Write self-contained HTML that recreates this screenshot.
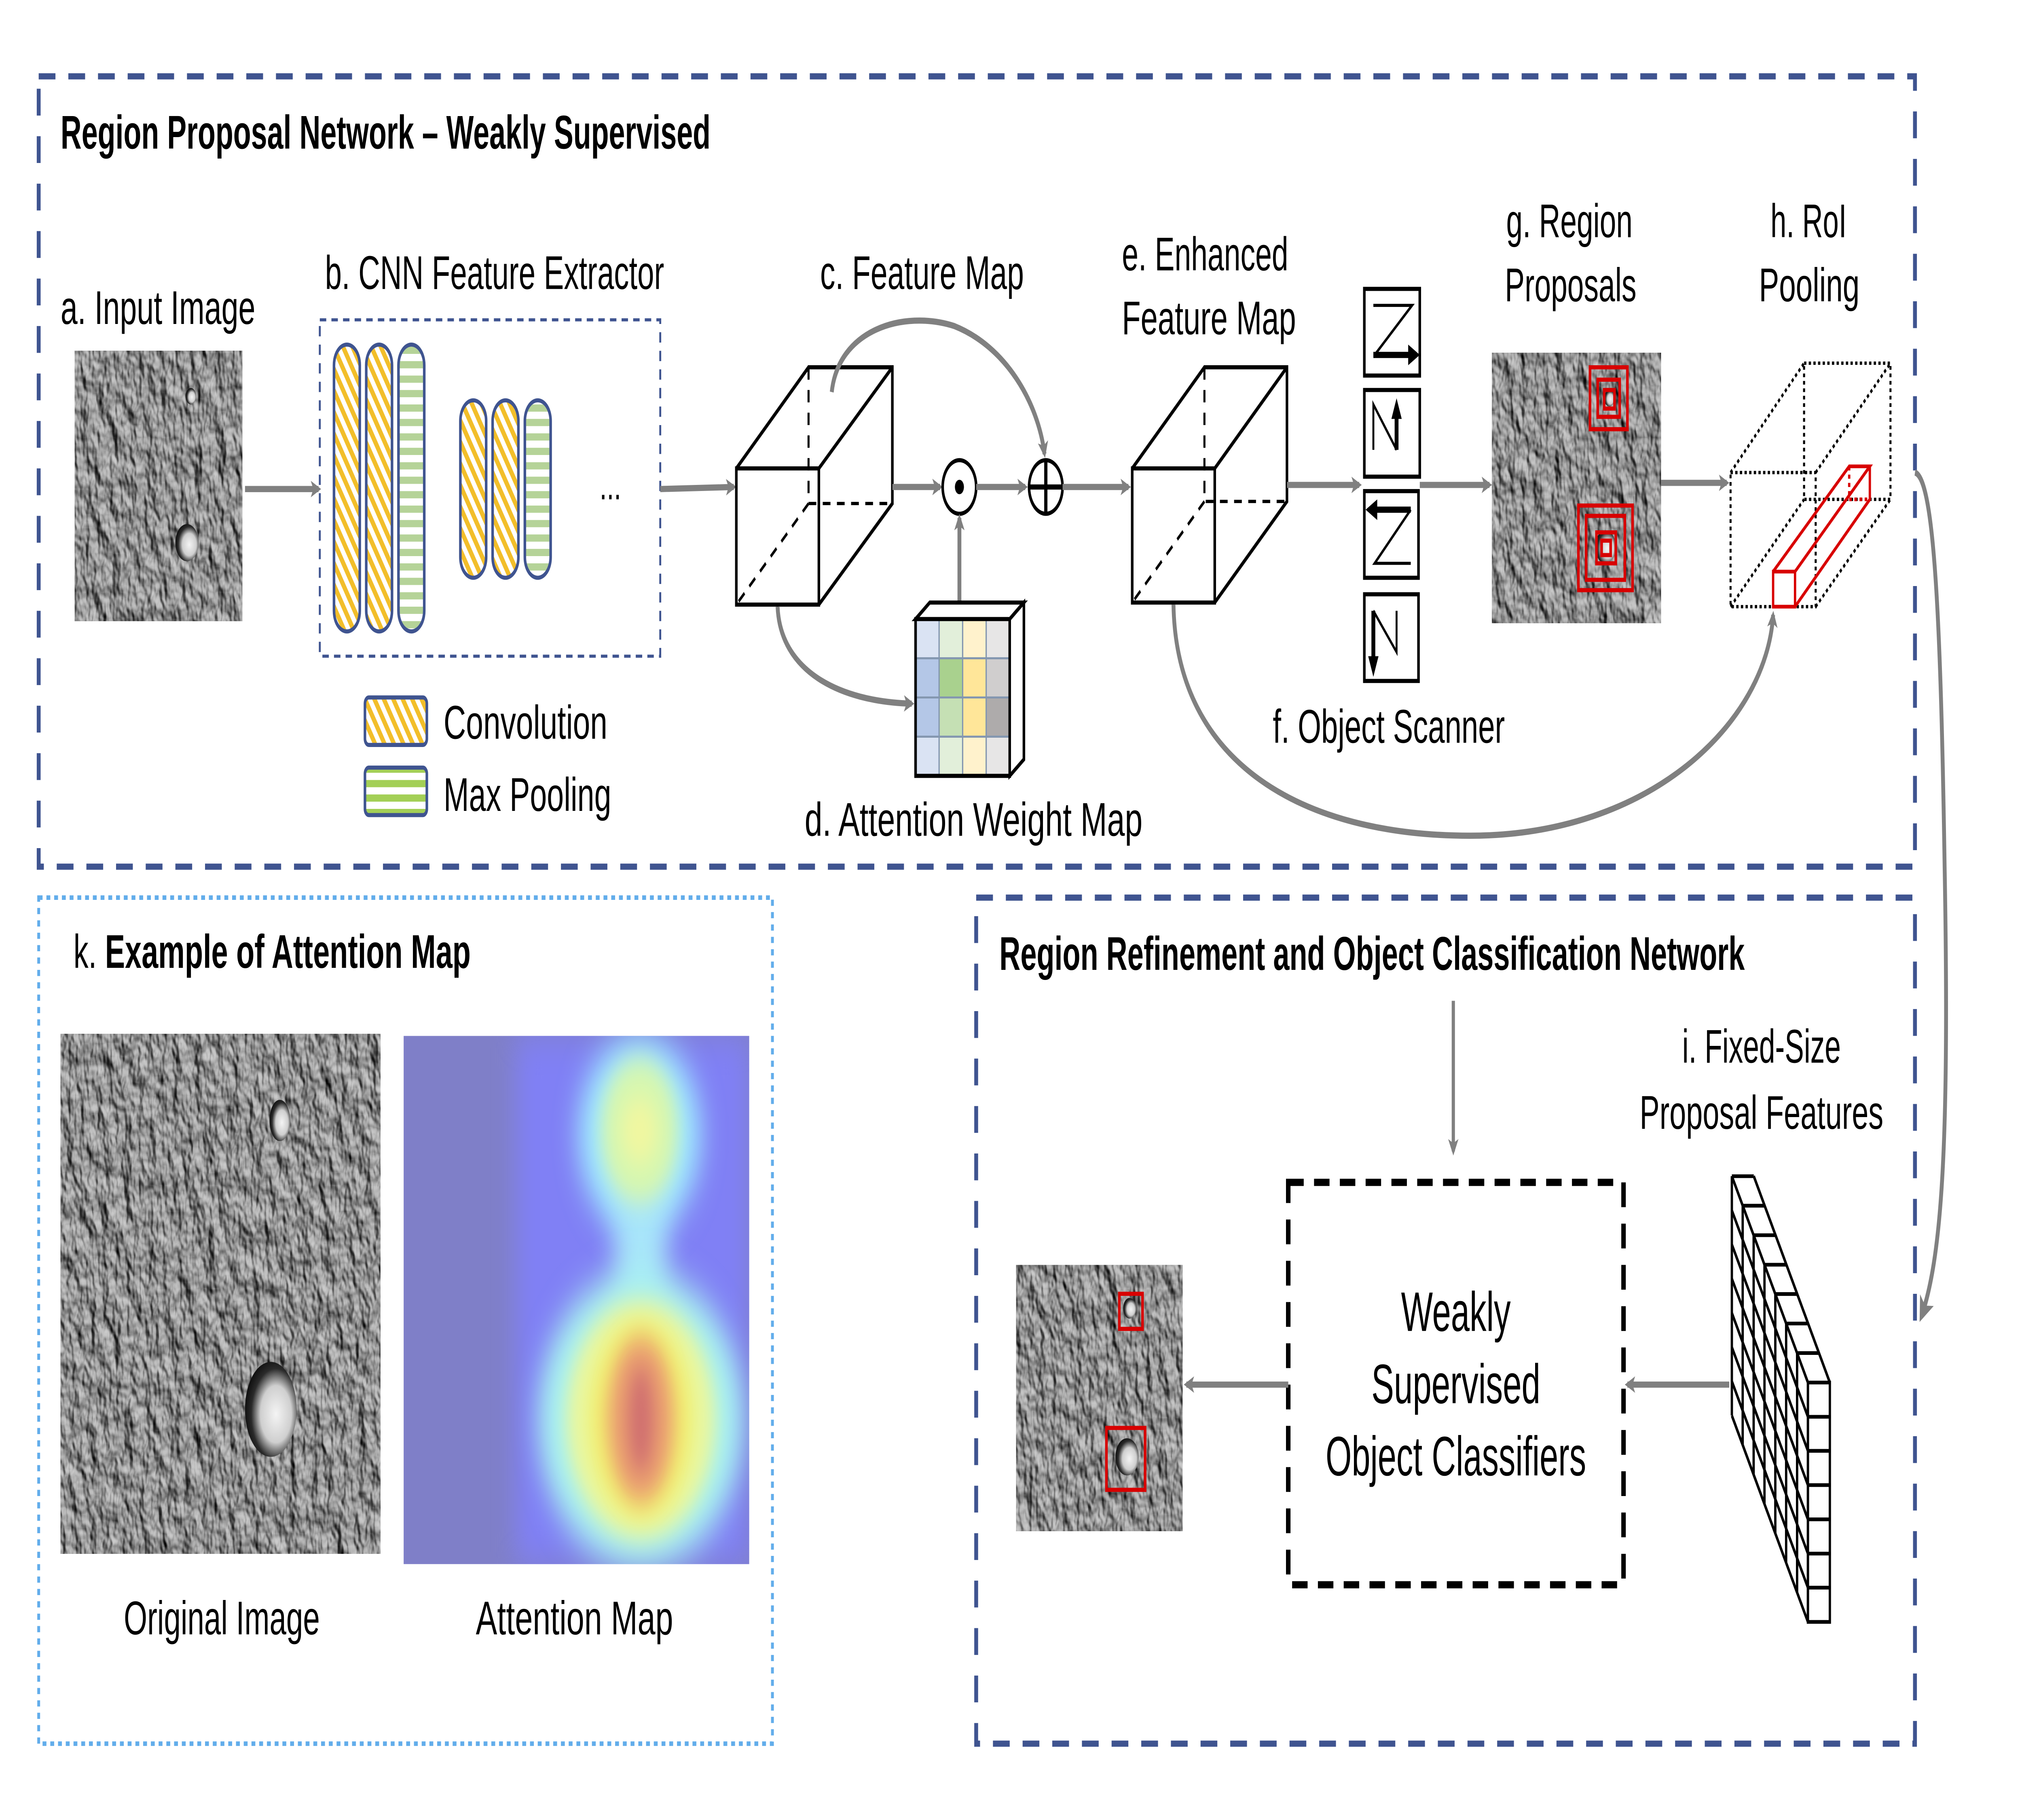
<!DOCTYPE html>
<html><head><meta charset="utf-8"><style>
html,body{margin:0;padding:0;background:#fff;width:100%;height:100%;overflow:hidden;}
svg{display:block;position:absolute;left:0;top:0;width:100vw;height:100vh;}
text{font-family:"Liberation Sans",sans-serif;fill:#000;}
</style></head><body>
<svg viewBox="0 0 1568 882" preserveAspectRatio="none" xmlns="http://www.w3.org/2000/svg">
<defs>
  <filter id="rock" x="0" y="0" width="1" height="1" color-interpolation-filters="sRGB">
    <feTurbulence type="fractalNoise" baseFrequency="0.11 0.08" numOctaves="3" seed="7"/>
    <feDiffuseLighting lighting-color="#bdbdbd" surfaceScale="3" diffuseConstant="1.0">
      <feDistantLight azimuth="135" elevation="50"/>
    </feDiffuseLighting>
    <feComponentTransfer><feFuncR type="linear" slope="1.15" intercept="-0.05"/><feFuncG type="linear" slope="1.15" intercept="-0.05"/><feFuncB type="linear" slope="1.15" intercept="-0.05"/></feComponentTransfer>
  </filter>
  <filter id="blur8" x="-50%" y="-50%" width="200%" height="200%"><feGaussianBlur stdDeviation="9"/></filter>
  <filter id="blur5" x="-50%" y="-50%" width="200%" height="200%"><feGaussianBlur stdDeviation="6"/></filter>
  <radialGradient id="crater" cx="0.6" cy="0.55" r="0.6">
    <stop offset="0" stop-color="#f4f4f4"/><stop offset="0.5" stop-color="#cfcfcf"/><stop offset="0.8" stop-color="#2a2a2a"/><stop offset="1" stop-color="#111"/>
  </radialGradient>
  <pattern id="diag" patternUnits="userSpaceOnUse" width="6" height="6" patternTransform="rotate(-35)">
    <rect width="6" height="6" fill="#fff"/><rect width="3" height="6" fill="#F2BE2A"/>
  </pattern>
  <pattern id="hstripe" patternUnits="userSpaceOnUse" width="10" height="7">
    <rect width="10" height="7" fill="#fff"/><rect width="10" height="3.5" fill="#B5D398"/>
  </pattern>
  <pattern id="hstripe2" patternUnits="userSpaceOnUse" width="10" height="7">
    <rect width="10" height="7" fill="#fff"/><rect width="10" height="3.5" fill="#A3CF56"/>
  </pattern>
  <marker id="ah" markerWidth="8" markerHeight="8" refX="6" refY="4" orient="auto" markerUnits="userSpaceOnUse" viewBox="0 0 8 8">
    <path d="M0,0 L8,4 L0,8 L2,4 Z" fill="#808080"/>
  </marker>
  <marker id="ahb" markerWidth="12" markerHeight="12" refX="9" refY="6" orient="auto" markerUnits="userSpaceOnUse" viewBox="0 0 12 12">
    <path d="M0,0 L12,6 L0,12 L3,6 Z" fill="#808080"/>
  </marker>
  <clipPath id="attclip"><rect x="313" y="502" width="268" height="256"/></clipPath>
</defs>

<rect x="30" y="37" width="1455" height="383" fill="none" stroke="#3F5490" stroke-width="3" stroke-dasharray="13 10"/>
<rect x="30" y="435" width="569" height="410" fill="none" stroke="#62ADEB" stroke-width="2.2" stroke-dasharray="3 3"/>
<rect x="757" y="435" width="728" height="410" fill="none" stroke="#3F5490" stroke-width="3" stroke-dasharray="13 10"/>

<text x="47" y="72" font-size="23" font-weight="bold" textLength="504" lengthAdjust="spacingAndGlyphs">Region Proposal Network – Weakly Supervised</text>
<text x="57" y="469" font-size="23" textLength="308" lengthAdjust="spacingAndGlyphs">k. <tspan font-weight="bold">Example of Attention Map</tspan></text>
<text x="775" y="470" font-size="23" font-weight="bold" textLength="578" lengthAdjust="spacingAndGlyphs">Region Refinement and Object Classification Network</text>

<text x="47" y="157" font-size="23" textLength="151" lengthAdjust="spacingAndGlyphs">a. Input Image</text>
<rect x="58" y="170" width="130" height="131" filter="url(#rock)"/>
<circle cx="148" cy="192" r="4" fill="url(#crater)"/>
<circle cx="145" cy="263" r="9" fill="url(#crater)"/>
<line x1="190" y1="237" x2="247" y2="237" stroke="#808080" stroke-width="3" marker-end="url(#ah)"/>

<text x="252" y="140" font-size="23" textLength="263" lengthAdjust="spacingAndGlyphs">b. CNN Feature Extractor</text>
<rect x="248" y="155" width="264" height="163" fill="none" stroke="#3F5490" stroke-width="1.5" stroke-dasharray="5 4"/>
<g stroke="#3F5490" stroke-width="2">
<rect x="259" y="167" width="20" height="139" rx="10" fill="url(#diag)"/>
<rect x="284" y="167" width="20" height="139" rx="10" fill="url(#diag)"/>
<rect x="309" y="167" width="20" height="139" rx="10" fill="url(#hstripe)"/>
<rect x="357" y="194" width="20" height="86" rx="10" fill="url(#diag)"/>
<rect x="382" y="194" width="20" height="86" rx="10" fill="url(#diag)"/>
<rect x="407" y="194" width="20" height="86" rx="10" fill="url(#hstripe)"/>
</g>
<text x="465" y="242" font-size="20">...</text>
<line x1="512" y1="237" x2="569" y2="236" stroke="#808080" stroke-width="3" marker-end="url(#ah)"/>

<rect x="283" y="338" width="48" height="23" rx="3" fill="url(#diag)" stroke="#3F5490" stroke-width="2"/>
<rect x="283" y="372" width="48" height="23" rx="3" fill="url(#hstripe2)" stroke="#3F5490" stroke-width="2"/>
<text x="344" y="358" font-size="23" textLength="127" lengthAdjust="spacingAndGlyphs">Convolution</text>
<text x="344" y="393" font-size="23" textLength="130" lengthAdjust="spacingAndGlyphs">Max Pooling</text>

<text x="636" y="140" font-size="23" textLength="158" lengthAdjust="spacingAndGlyphs">c. Feature Map</text>
<g fill="none" stroke="#000" stroke-width="2">
<rect x="571" y="227" width="64" height="66"/>
<path d="M571,227 L627,178 L692,178 L692,244 L635,293 M635,227 L692,178"/>
<path d="M627,178 L627,244 L692,244 M627,244 L571,293" stroke-dasharray="6 5" stroke-width="1.6"/>
</g>
<path d="M645,190 C650,160 700,150 740,158 C780,168 805,195 810,220" fill="none" stroke="#808080" stroke-width="3" marker-end="url(#ah)"/>
<path d="M603,294 C605,325 650,340 707,341" fill="none" stroke="#808080" stroke-width="3" marker-end="url(#ah)"/>
<line x1="692" y1="236" x2="729" y2="236" stroke="#808080" stroke-width="3" marker-end="url(#ah)"/>
<circle cx="744" cy="236" r="13" fill="#fff" stroke="#000" stroke-width="2"/>
<circle cx="744" cy="236" r="3.5" fill="#000"/>
<line x1="757" y1="236" x2="795" y2="236" stroke="#808080" stroke-width="3" marker-end="url(#ah)"/>
<circle cx="811" cy="236" r="13" fill="#fff" stroke="#000" stroke-width="2"/>
<path d="M798,236 H824 M811,223 V249" stroke="#000" stroke-width="2.5"/>
<line x1="824" y1="236" x2="875" y2="236" stroke="#808080" stroke-width="3" marker-end="url(#ah)"/>
<line x1="744" y1="292" x2="744" y2="251" stroke="#808080" stroke-width="3" marker-end="url(#ah)"/>

<g>
<path d="M710,300 L721,292 L794,292 L783,300 Z" fill="#fff" stroke="#000" stroke-width="2"/>
<path d="M783,300 L794,292 L794,368 L783,376 Z" fill="#fff" stroke="#000" stroke-width="2"/>
<rect x="710" y="300" width="18.25" height="19" fill="#DAE3F3"/><rect x="728.25" y="300" width="18.25" height="19" fill="#E2EFDA"/><rect x="746.5" y="300" width="18.25" height="19" fill="#FFF2CC"/><rect x="764.75" y="300" width="18.25" height="19" fill="#E7E6E6"/>
<rect x="710" y="319" width="18.25" height="19" fill="#B4C7E7"/><rect x="728.25" y="319" width="18.25" height="19" fill="#A9D18E"/><rect x="746.5" y="319" width="18.25" height="19" fill="#FFE699"/><rect x="764.75" y="319" width="18.25" height="19" fill="#D0CECE"/>
<rect x="710" y="338" width="18.25" height="19" fill="#B4C7E7"/><rect x="728.25" y="338" width="18.25" height="19" fill="#C5E0B4"/><rect x="746.5" y="338" width="18.25" height="19" fill="#FFE699"/><rect x="764.75" y="338" width="18.25" height="19" fill="#AEABAB"/>
<rect x="710" y="357" width="18.25" height="19" fill="#DAE3F3"/><rect x="728.25" y="357" width="18.25" height="19" fill="#E2EFDA"/><rect x="746.5" y="357" width="18.25" height="19" fill="#FFF2CC"/><rect x="764.75" y="357" width="18.25" height="19" fill="#E7E6E6"/>
<path d="M728.25,300 V376 M746.5,300 V376 M764.75,300 V376 M710,319 H783 M710,338 H783 M710,357 H783" stroke="#8497B0" stroke-width="1"/>
<rect x="710" y="300" width="73" height="76" fill="none" stroke="#000" stroke-width="2"/>
</g>
<text x="624" y="405" font-size="23" textLength="262" lengthAdjust="spacingAndGlyphs">d. Attention Weight Map</text>

<text x="870" y="131" font-size="23" textLength="129" lengthAdjust="spacingAndGlyphs">e. Enhanced</text>
<text x="870" y="162" font-size="23" textLength="135" lengthAdjust="spacingAndGlyphs">Feature Map</text>
<g fill="none" stroke="#000" stroke-width="2">
<rect x="878" y="227" width="64" height="65"/>
<path d="M878,227 L934,178 L998,178 L998,243 L942,292 M942,227 L998,178"/>
<path d="M934,178 L934,243 L998,243 M934,243 L878,292" stroke-dasharray="6 5" stroke-width="1.6"/>
</g>
<line x1="998" y1="235" x2="1054" y2="235" stroke="#808080" stroke-width="3" marker-end="url(#ah)"/>
<path d="M910,293 C912,370 1010,405 1140,405 C1280,405 1370,350 1375,298" fill="none" stroke="#808080" stroke-width="3" marker-end="url(#ah)"/>

<g fill="none" stroke="#000" stroke-width="2">
<rect x="1058" y="140" width="43" height="42"/>
<rect x="1058" y="189" width="43" height="42"/>
<rect x="1058" y="238" width="42" height="42"/>
<rect x="1058" y="288" width="42" height="42"/>
<path d="M1065,148 H1095 L1066,172" stroke-width="1.5"/>
<path d="M1065,218 V196 L1083,218" stroke-width="1.5"/>
<path d="M1094,247 L1066,273 H1094" stroke-width="1.5"/>
<path d="M1065,296 L1083,316 V296" stroke-width="1.5"/>
</g>
<path d="M1065,172 H1094" stroke="#000" stroke-width="3"/><path d="M1092,167 L1101,172 L1092,177 Z" fill="#000"/>
<path d="M1083,218 V200" stroke="#000" stroke-width="3"/><path d="M1079,203 L1083,193 L1087,203 Z" fill="#000"/>
<path d="M1094,247 H1066" stroke="#000" stroke-width="3"/><path d="M1068,242 L1059,247 L1068,252 Z" fill="#000"/>
<path d="M1065,296 V320" stroke="#000" stroke-width="3"/><path d="M1061,318 L1065,328 L1069,318 Z" fill="#000"/>
<text x="987" y="360" font-size="23" textLength="180" lengthAdjust="spacingAndGlyphs">f. Object Scanner</text>
<line x1="1101" y1="235" x2="1155" y2="235" stroke="#808080" stroke-width="3" marker-end="url(#ah)"/>

<text x="1168" y="115" font-size="23" textLength="98" lengthAdjust="spacingAndGlyphs">g. Region</text>
<text x="1167" y="146" font-size="23" textLength="102" lengthAdjust="spacingAndGlyphs">Proposals</text>
<rect x="1157" y="171" width="131" height="131" filter="url(#rock)"/>
<circle cx="1248" cy="193" r="4" fill="url(#crater)"/>
<circle cx="1245" cy="265" r="8" fill="url(#crater)"/>
<g fill="none" stroke="#D80000" stroke-width="2">
<rect x="1233" y="178" width="29" height="30"/><rect x="1239" y="184" width="17" height="18"/><rect x="1244" y="189" width="8" height="9"/>
<rect x="1224" y="245" width="42" height="41"/><rect x="1230" y="250" width="30" height="31"/><rect x="1238" y="258" width="15" height="15"/><rect x="1242" y="262" width="7" height="7"/>
</g>
<line x1="1288" y1="234" x2="1339" y2="234" stroke="#808080" stroke-width="3" marker-end="url(#ah)"/>

<text x="1373" y="115" font-size="23" textLength="59" lengthAdjust="spacingAndGlyphs">h. RoI</text>
<text x="1364" y="146" font-size="23" textLength="78" lengthAdjust="spacingAndGlyphs">Pooling</text>
<g fill="none" stroke="#000" stroke-width="1.6" stroke-dasharray="1.8 1.8">
<rect x="1342" y="229" width="66" height="65"/>
<rect x="1399" y="176" width="67" height="66"/>
<path d="M1342,229 L1399,176 M1408,229 L1466,176 M1408,294 L1466,242 M1342,294 L1399,242"/>
</g>
<g fill="none" stroke="#D80000" stroke-width="1.8">
<rect x="1375" y="277" width="17" height="17"/>
<path d="M1375,277 L1434,226 H1450 L1392,277 M1450,226 V242 L1392,294"/>
<path d="M1434,226 V242 H1450" stroke-dasharray="2 2"/>
</g>
<path d="M1485,229 C1500,232 1505,300 1508,420 C1512,560 1505,610 1490,638" fill="none" stroke="#808080" stroke-width="3" marker-end="url(#ahb)"/>

<rect x="47" y="501" width="248" height="252" filter="url(#rock)"/>
<ellipse cx="217" cy="543" rx="8" ry="10" fill="url(#crater)"/>
<ellipse cx="210" cy="683" rx="20" ry="23" fill="url(#crater)"/>
<g clip-path="url(#attclip)">
  <rect x="313" y="502" width="268" height="256" fill="#7F7FC8"/>
  <rect x="400" y="502" width="181" height="256" fill="#8080F5" filter="url(#blur8)"/>
  <ellipse cx="496" cy="550" rx="48" ry="48" fill="#9FE8FF" filter="url(#blur8)"/>
  <rect x="478" y="560" width="38" height="100" fill="#A8E6FA" filter="url(#blur8)"/>
  <ellipse cx="496" cy="548" rx="30" ry="35" fill="#D6F7B0" filter="url(#blur5)"/>
  <ellipse cx="496" cy="548" rx="14" ry="16" fill="#F0F7A0" filter="url(#blur5)"/>
  <ellipse cx="497" cy="688" rx="80" ry="72" fill="#A8F2F0" filter="url(#blur8)"/>
  <ellipse cx="497" cy="688" rx="58" ry="58" fill="#E8F7A0" filter="url(#blur5)"/>
  <ellipse cx="497" cy="688" rx="40" ry="48" fill="#F2EE70" filter="url(#blur5)"/>
  <ellipse cx="497" cy="688" rx="26" ry="40" fill="#EBA070" filter="url(#blur5)"/>
  <ellipse cx="497" cy="688" rx="10" ry="26" fill="#D07070" filter="url(#blur5)"/>
</g>
<text x="96" y="792" font-size="23" textLength="152" lengthAdjust="spacingAndGlyphs">Original Image</text>
<text x="369" y="792" font-size="23" textLength="153" lengthAdjust="spacingAndGlyphs">Attention Map</text>

<line x1="1127" y1="485" x2="1127" y2="558" stroke="#808080" stroke-width="2.5" marker-end="url(#ah)"/>
<rect x="999" y="573" width="260" height="195" fill="none" stroke="#000" stroke-width="3.5" stroke-dasharray="12 8"/>
<text x="1129" y="645" font-size="27" text-anchor="middle" textLength="85" lengthAdjust="spacingAndGlyphs">Weakly</text>
<text x="1129" y="680" font-size="27" text-anchor="middle" textLength="131" lengthAdjust="spacingAndGlyphs">Supervised</text>
<text x="1129" y="715" font-size="27" text-anchor="middle" textLength="202" lengthAdjust="spacingAndGlyphs">Object Classifiers</text>
<line x1="999" y1="671" x2="920" y2="671" stroke="#808080" stroke-width="3" marker-end="url(#ah)"/>
<rect x="788" y="613" width="129" height="129" filter="url(#rock)"/>
<circle cx="876" cy="634" r="5" fill="url(#crater)"/>
<circle cx="874" cy="706" r="9" fill="url(#crater)"/>
<g fill="none" stroke="#D80000" stroke-width="2">
<rect x="868" y="627" width="18" height="17"/><rect x="858" y="692" width="30" height="30"/>
</g>
<line x1="1341" y1="671" x2="1262" y2="671" stroke="#808080" stroke-width="3" marker-end="url(#ah)"/>
<text x="1366" y="515" font-size="23" text-anchor="middle" textLength="123" lengthAdjust="spacingAndGlyphs">i. Fixed-Size</text>
<text x="1366" y="547" font-size="23" text-anchor="middle" textLength="189" lengthAdjust="spacingAndGlyphs">Proposal Features</text>

<g stroke="#000" stroke-width="1.8" fill="none">
<path d="M1343,570 L1402,670 M1343,586.6 L1402,686.6 M1343,603.1 L1402,703.1 M1343,619.7 L1402,719.7 M1343,636.3 L1402,736.3 M1343,652.9 L1402,752.9 M1343,669.4 L1402,769.4 M1343,686 L1402,786"/>
<path d="M1343,570 V686 M1351.4,584.3 V700.3 M1359.9,598.6 V714.6 M1368.3,612.9 V728.9 M1376.7,627.1 V743.1 M1385.1,641.4 V757.4 M1393.6,655.7 V771.7 M1402,670 V786"/>
<path d="M1343,570 H1360 M1351.4,584.3 H1368.4 M1359.9,598.6 H1376.9 M1368.3,612.9 H1385.3 M1376.7,627.1 H1393.7 M1385.1,641.4 H1402.1 M1393.6,655.7 H1410.6 M1360,570 L1419,670"/>
<rect x="1402" y="670" width="17" height="116"/>
<path d="M1402,686.6 H1419 M1402,703.1 H1419 M1402,719.7 H1419 M1402,736.3 H1419 M1402,752.9 H1419 M1402,769.4 H1419"/>
</g>
</svg>
</body></html>
